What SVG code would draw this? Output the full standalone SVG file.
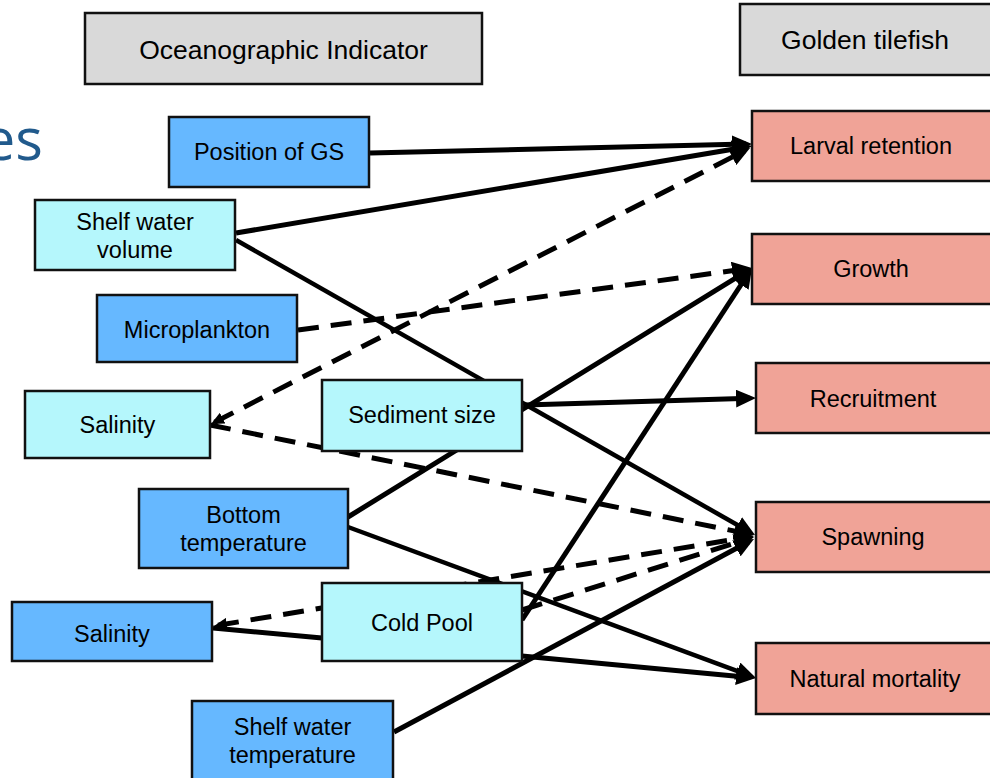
<svg xmlns="http://www.w3.org/2000/svg" width="990" height="778" viewBox="0 0 990 778">
<style>
.box{stroke:#111;stroke-width:2.5}
.hdr{fill:#D9D9D9}
.ind{fill:#66B8FF}
.der{fill:#B5F7FC}
.res{fill:#F0A397}
text{font-family:"Liberation Sans",Arial,sans-serif;font-size:23.5px;fill:#000;text-anchor:middle}
.ht{font-size:26.5px}
.ln{fill:none;stroke:#000;stroke-width:5}
.thin{stroke-width:4.5}
.dash{stroke-dasharray:21 12}
</style>
<defs>
<marker id="ah" markerUnits="userSpaceOnUse" markerWidth="20" markerHeight="18" refX="14" refY="9" orient="auto"><path d="M0,0 L20,9 L0,18 Z" fill="#000"/></marker>
<marker id="ahs" markerUnits="userSpaceOnUse" markerWidth="13" markerHeight="12" refX="9" refY="6" orient="auto-start-reverse"><path d="M0,0 L13,6 L0,12 Z" fill="#000"/></marker>
</defs>
<text x="43" y="160" style="font-family:'Open Sans','Noto Sans',sans-serif;font-size:58px;fill:#215A8C;text-anchor:end">es</text>
<g id="connectors">
<path class="ln" d="M370,153 L746,144.1" marker-end="url(#ah)"/>
<path class="ln" d="M236,233 L746.1,147" marker-end="url(#ah)"/>
<path class="ln dash" d="M214.6,422.2 L744.7,150.7" marker-start="url(#ahs)" marker-end="url(#ah)"/>
<path class="ln dash" d="M298,330 L746,268.8" marker-end="url(#ah)"/>
<path class="ln" d="M348,517 L746.9,271.2" marker-end="url(#ah)"/>
<path class="ln" d="M522,620 L748.7,273" marker-end="url(#ah)"/>
<path class="ln" d="M525,405 L750,398.2" marker-end="url(#ah)"/>
<path class="ln thin" d="M236,240 L749.8,532" marker-end="url(#ah)"/>
<path class="ln dash" d="M210,425 L748.1,533.8" marker-end="url(#ah)"/>
<path class="ln dash" d="M218,625.3 L748.1,537" marker-start="url(#ahs)" marker-end="url(#ah)"/>
<path class="ln" d="M213,628 L322,638"/>
<path class="ln dash" d="M522,610 L748.3,538.8" marker-end="url(#ah)"/>
<path class="ln" d="M394,732 L748.7,541.8" marker-end="url(#ah)"/>
<path class="ln" d="M522,656 L750,677.4" marker-end="url(#ah)"/>
<path class="ln thin" d="M348,527 L750.4,675.9" marker-end="url(#ah)"/>
</g>
<g id="hdr-oceanographic"><rect class="box hdr" x="85" y="13" width="397" height="71"/><text class="ht" x="283.5" y="59">Oceanographic Indicator</text></g>
<g id="hdr-tilefish"><rect class="box hdr" x="740" y="4" width="260" height="71"/><text class="ht" x="865" y="49">Golden tilefish</text></g>
<g id="n-gs"><rect class="box ind" x="169" y="117" width="200" height="70"/><text x="269" y="160">Position of GS</text></g>
<g id="n-swv"><rect class="box der" x="35" y="200" width="200" height="70"/><text x="135" y="230">Shelf water</text><text x="135" y="258">volume</text></g>
<g id="n-micro"><rect class="box ind" x="97" y="295" width="200" height="67"/><text x="197" y="338">Microplankton</text></g>
<g id="n-sal1"><rect class="box der" x="25" y="391" width="185" height="67"/><text x="117.5" y="433">Salinity</text></g>
<g id="n-sed"><rect class="box der" x="322" y="380" width="200" height="71"/><text x="422" y="423">Sediment size</text></g>
<g id="n-bt"><rect class="box ind" x="139" y="489" width="209" height="79"/><text x="243.5" y="523">Bottom</text><text x="243.5" y="551">temperature</text></g>
<g id="n-sal2"><rect class="box ind" x="12" y="602" width="200" height="59"/><text x="112" y="642">Salinity</text></g>
<g id="n-cp"><rect class="box der" x="322" y="583" width="200" height="78"/><text x="422" y="631">Cold Pool</text></g>
<g id="n-swt"><rect class="box ind" x="192" y="701" width="201" height="90"/><text x="292.5" y="735">Shelf water</text><text x="292.5" y="763">temperature</text></g>
<g id="n-lr"><rect class="box res" x="752" y="111" width="250" height="70"/><text x="871" y="154">Larval retention</text></g>
<g id="n-growth"><rect class="box res" x="752" y="234" width="250" height="70"/><text x="871" y="277">Growth</text></g>
<g id="n-rec"><rect class="box res" x="756" y="363" width="250" height="70"/><text x="873" y="407">Recruitment</text></g>
<g id="n-spawn"><rect class="box res" x="756" y="502" width="250" height="70"/><text x="873" y="545">Spawning</text></g>
<g id="n-nm"><rect class="box res" x="756" y="643" width="250" height="71"/><text x="875" y="687">Natural mortality</text></g>
</svg>
